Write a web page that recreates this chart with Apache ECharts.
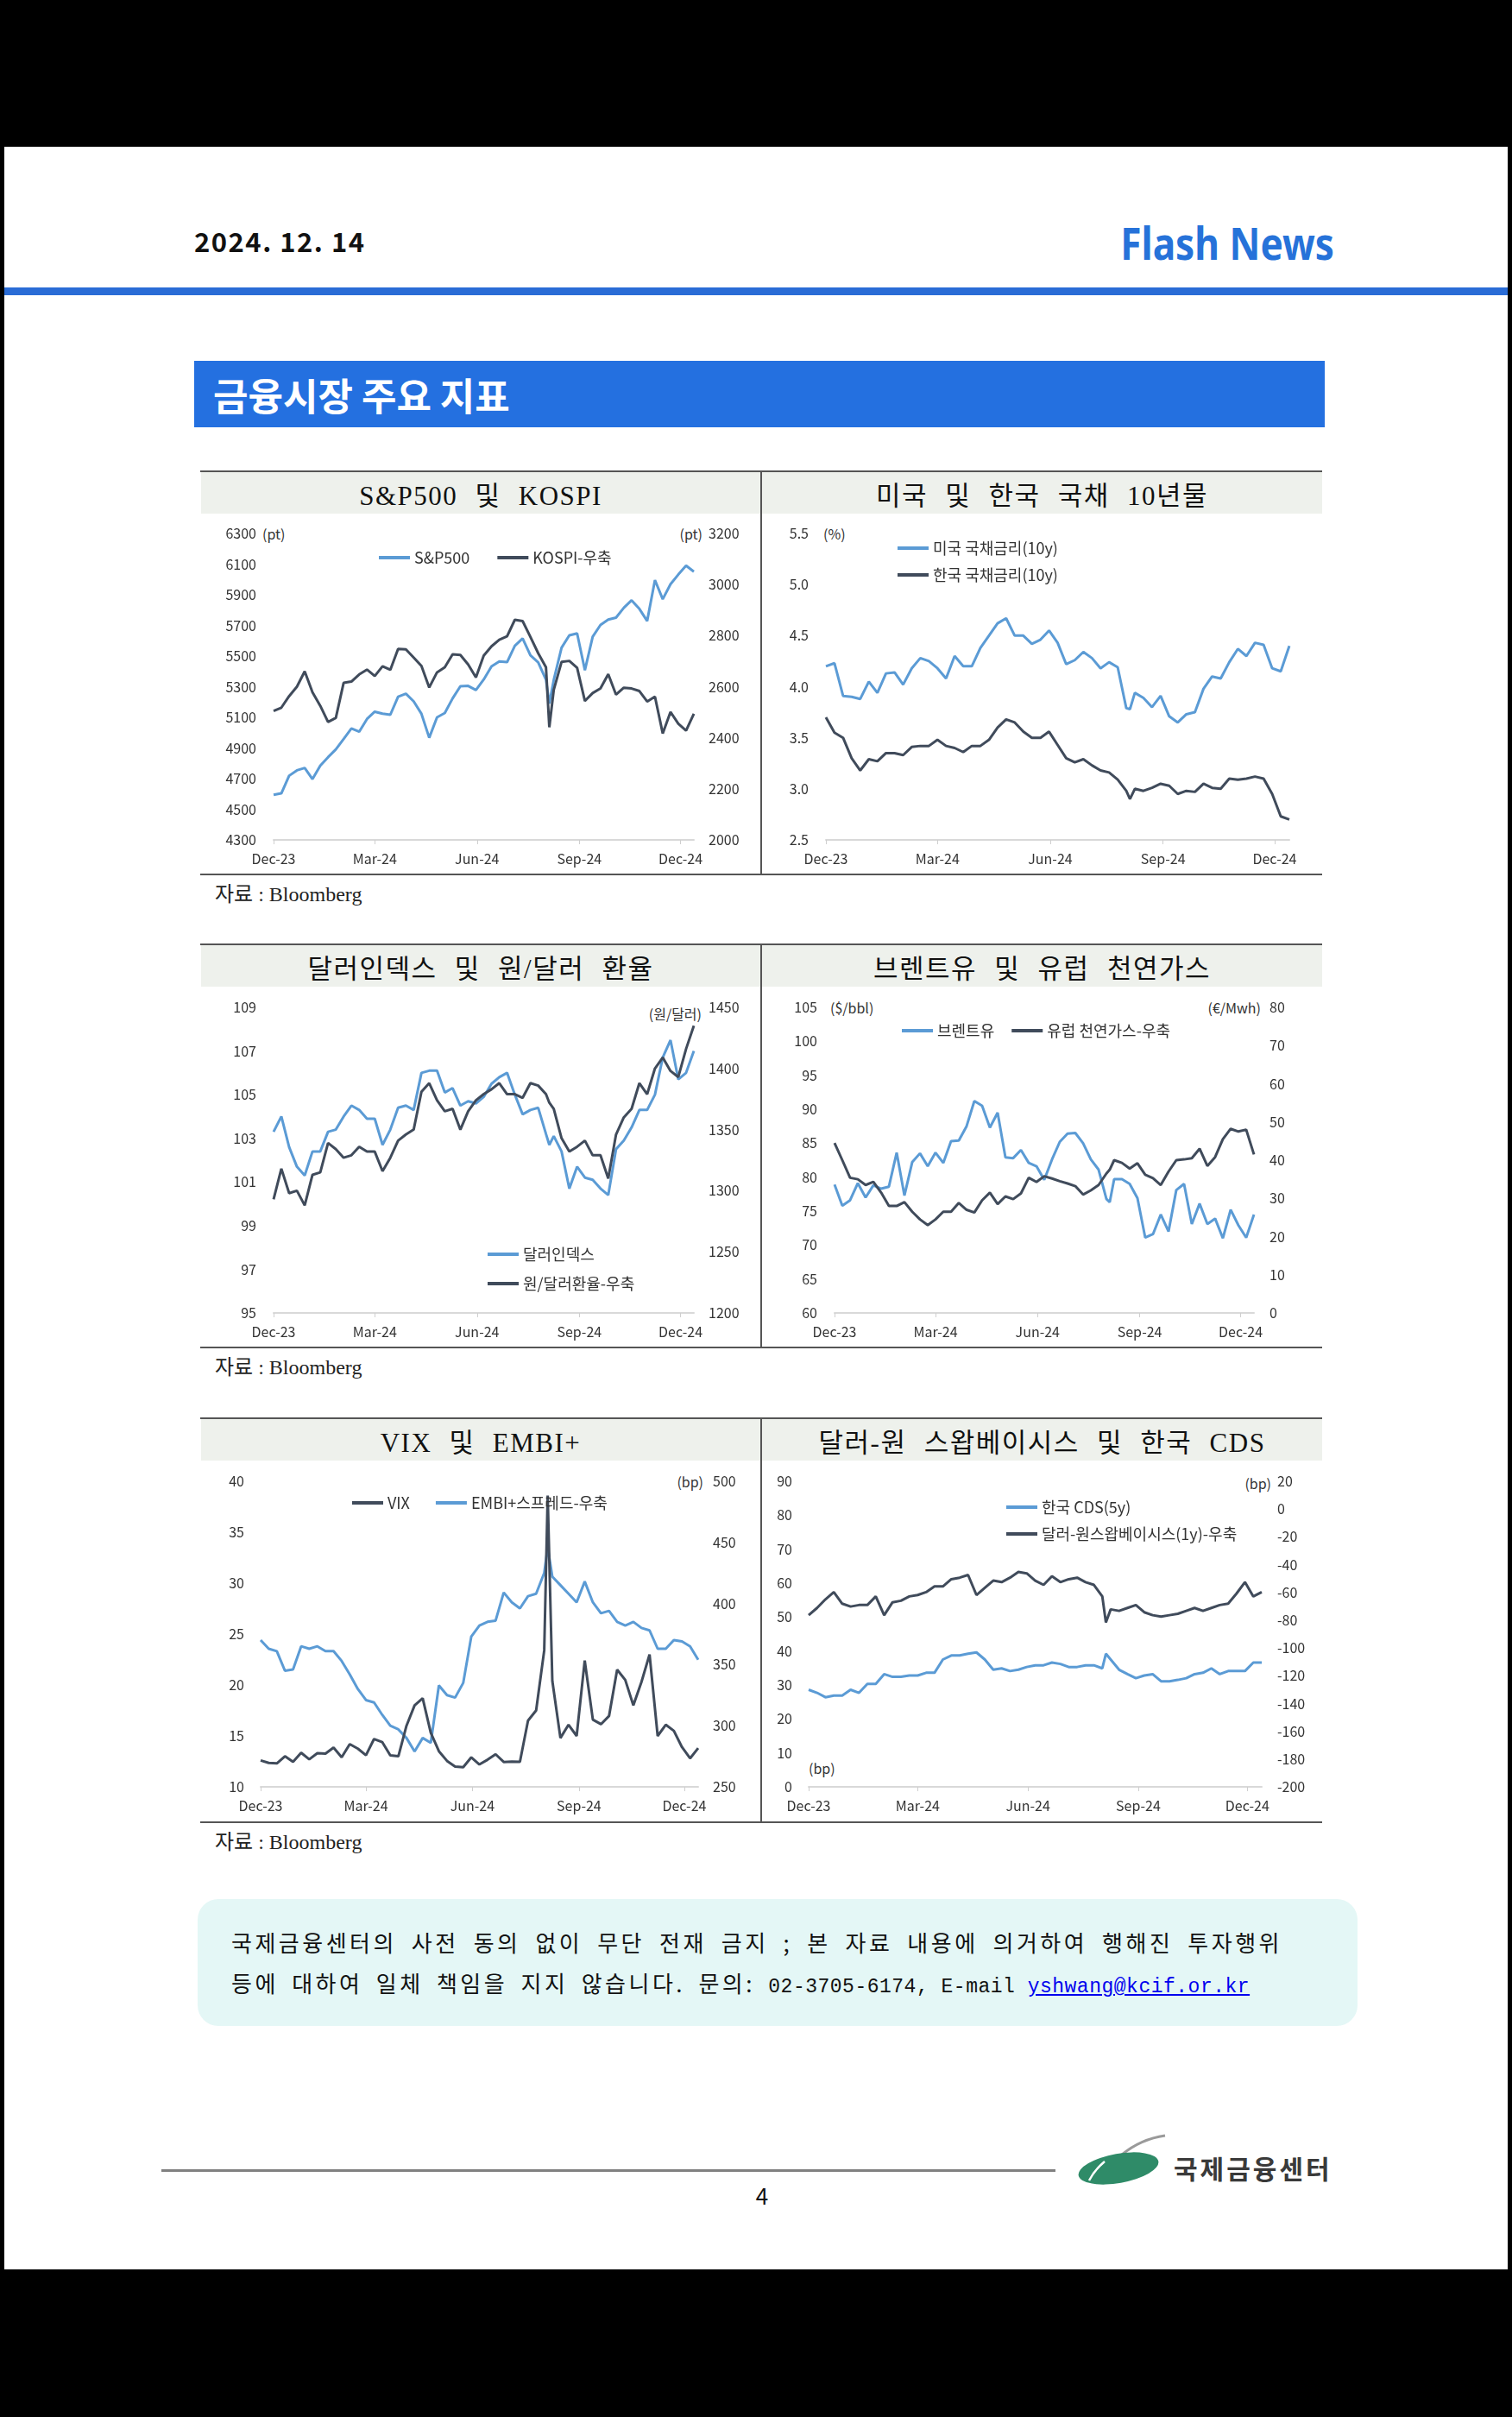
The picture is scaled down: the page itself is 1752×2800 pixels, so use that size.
<!DOCTYPE html>
<html><head><meta charset="utf-8">
<script src="https://cdn.jsdelivr.net/npm/echarts@6/dist/echarts.min.js"></script>
<style>
html,body{margin:0;padding:0;}
body{width:1752px;height:2800px;position:relative;background:#fff;overflow:hidden;font-family:"Noto Sans CJK KR","Noto Sans",sans-serif;}
.abs{position:absolute;}
.unit{position:absolute;font-size:16px;line-height:20px;color:#333;white-space:nowrap;}
.ptitle{position:absolute;display:flex;align-items:center;justify-content:center;font-family:"Liberation Serif","Noto Sans CJK KR",serif;font-size:31px;letter-spacing:1.5px;word-spacing:11px;color:#111;background:#EEF1EC;white-space:nowrap;}
.src{position:absolute;left:249px;font-family:"Liberation Serif","Noto Sans CJK KR",serif;font-size:24px;line-height:28px;color:#222;}
</style></head><body>
<div class="abs" style="left:0;top:0;width:1752px;height:170px;background:#000"></div>
<div class="abs" style="left:0;top:2629px;width:1752px;height:171px;background:#000"></div>
<div class="abs" style="left:0;top:170px;width:5px;height:2459px;background:#000"></div>
<div class="abs" style="left:1747px;top:170px;width:5px;height:2459px;background:#000"></div>

<div class="abs" style="left:225px;top:263px;font-size:31px;line-height:31px;font-weight:700;letter-spacing:1.5px;color:#111">2024. 12. 14</div>
<div class="abs" style="left:1546px;top:255px;font-family:'Noto Sans',sans-serif;font-size:52px;line-height:52px;font-weight:700;color:#2672D9;white-space:nowrap;transform:translateX(-100%) scaleX(0.85);transform-origin:right center">Flash News</div>
<div class="abs" style="left:5px;top:333px;width:1742px;height:9px;background:#2A6CD6"></div>
<div class="abs" style="left:225px;top:418px;width:1310px;height:77px;background:#2470E0;display:flex;align-items:center;">
  <span style="margin-left:22px;color:#fff;font-size:44px;font-weight:700;line-height:46px">금융시장 주요 지표</span>
</div>

<div id="frame"></div>

<div class="abs" style="left:229px;top:2200px;width:1344px;height:147px;border-radius:24px;background:#E4F7F6"></div>
<div class="abs" style="left:268px;top:2233px;width:1218px;font-size:26px;line-height:34px;letter-spacing:3.5px;color:#111;text-align:justify;text-align-last:justify;white-space:nowrap">국제금융센터의 사전 동의 없이 무단 전재 금지 ; 본 자료 내용에 의거하여 행해진 투자행위</div>
<div class="abs" style="left:268px;top:2280px;font-size:26px;line-height:34px;letter-spacing:3.5px;word-spacing:6px;color:#111;white-space:nowrap">등에 대하여 일체 책임을 지지 않습니다. 문의: <span style="font-family:'Liberation Mono',monospace;font-size:23px;letter-spacing:0.5px;word-spacing:0">02-3705-6174, E-mail <span style="color:#0000EE;text-decoration:underline">yshwang@kcif.or.kr</span></span></div>

<div class="abs" style="left:187px;top:2513px;width:1036px;height:3px;background:#808080"></div>
<div class="abs" style="left:870px;top:2528px;width:26px;text-align:center;font-size:26px;line-height:30px;color:#111">4</div>
<svg class="abs" style="left:1240px;top:2470px" width="115" height="65" viewBox="0 0 115 65">
  <path d="M 60 26 Q 82 8 110 4" stroke="#9a9a9a" stroke-width="3" fill="none"/>
  <ellipse cx="56" cy="42" rx="47" ry="17" fill="#2F8B68" transform="rotate(-10 56 42)"/>
  <path d="M 22 56 Q 28 44 40 34" stroke="#ffffff" stroke-width="2.5" fill="none"/>
</svg>
<div class="abs" style="left:1360px;top:2494px;font-size:30px;line-height:34px;font-weight:700;letter-spacing:3px;color:#3a3a3a">국제금융센터</div>

<script>
// ---------- data (weekly observations, day offset from 2023-12-01) ----------
const days = [0,7,14,21,28,35,42,49,56,63,70,77,84,91,98,105,112,119,126,133,140,147,154,161,168,175,182,189,196,203,210,217,224,231,238,245,248,252,259,266,273,280,287,294,301,308,315,322,329,336,343,350,357,364,371,378];
const tickDays = [0, 91, 183, 275, 366];
const tickLabels = ['Dec-23','Mar-24','Jun-24','Sep-24','Dec-24'];

const sp500 = [4594,4604,4719,4754,4770,4697,4784,4840,4891,4959,5027,5006,5089,5137,5124,5117,5234,5254,5204,5123,4967,5100,5128,5223,5303,5305,5278,5347,5432,5465,5460,5567,5615,5505,5459,5346,5190,5344,5554,5635,5648,5408,5626,5703,5738,5751,5815,5864,5808,5729,5996,5871,5969,6032,6090,6051];
const kospi = [2505,2518,2563,2600,2660,2578,2525,2462,2478,2615,2620,2648,2667,2642,2680,2666,2748,2746,2714,2681,2597,2656,2676,2727,2724,2687,2636,2722,2758,2784,2797,2862,2857,2795,2731,2676,2441,2588,2697,2701,2674,2544,2575,2593,2649,2569,2596,2593,2583,2542,2561,2417,2501,2455,2428,2494];

const us10y = [4.20,4.23,3.91,3.90,3.88,4.05,3.94,4.13,4.14,4.02,4.18,4.28,4.25,4.18,4.08,4.30,4.20,4.20,4.38,4.50,4.62,4.67,4.50,4.50,4.42,4.46,4.55,4.43,4.22,4.26,4.34,4.28,4.18,4.24,4.19,3.79,3.78,3.94,3.89,3.80,3.91,3.71,3.65,3.73,3.75,3.98,4.10,4.08,4.24,4.37,4.30,4.43,4.41,4.18,4.15,4.40];
const kr10y = [3.70,3.55,3.50,3.30,3.18,3.29,3.27,3.35,3.35,3.33,3.41,3.42,3.42,3.48,3.42,3.40,3.36,3.42,3.42,3.48,3.60,3.68,3.65,3.56,3.50,3.50,3.56,3.43,3.30,3.26,3.29,3.23,3.18,3.16,3.09,2.98,2.90,3.00,2.98,3.01,3.05,3.03,2.95,2.98,2.97,3.05,3.01,3.00,3.10,3.09,3.10,3.12,3.10,2.95,2.73,2.70];

const dxy = [103.3,104.0,102.6,101.7,101.3,102.4,102.4,103.3,103.4,104.0,104.5,104.3,103.9,103.9,102.7,103.4,104.4,104.5,104.3,106.0,106.1,106.1,105.1,105.3,104.5,104.7,104.6,104.9,105.5,105.8,106.0,105.0,104.1,104.3,104.4,103.2,102.7,103.1,102.4,100.7,101.7,101.2,101.1,100.7,100.4,102.5,102.9,103.5,104.3,104.3,105.0,106.7,107.5,105.7,106.0,107.0];
const usdkrw = [1293,1318,1298,1300,1288,1313,1315,1339,1334,1327,1329,1336,1332,1332,1316,1327,1341,1346,1350,1381,1388,1374,1365,1367,1350,1365,1374,1379,1383,1388,1379,1379,1376,1388,1386,1379,1372,1367,1343,1332,1336,1341,1329,1329,1310,1346,1360,1367,1388,1379,1400,1409,1398,1393,1416,1435];

const brent = [78.9,75.8,76.6,79.1,77.0,78.8,78.3,78.6,83.6,77.3,82.2,83.5,81.6,83.6,82.1,85.3,85.4,87.5,91.2,90.5,87.3,89.5,82.9,82.8,84.0,82.1,81.6,79.6,82.6,85.2,86.4,86.5,85.0,82.6,81.1,76.8,76.3,79.7,79.7,79.0,76.9,71.1,71.6,74.5,72.0,78.1,79.0,73.1,76.1,73.1,73.9,71.0,75.2,72.9,71.1,74.5];
const euGas = [44.5,40.0,35.4,35.0,33.5,34.3,31.5,28.0,28.0,29.0,26.5,24.5,23.0,24.5,26.5,26.5,28.8,27.0,26.3,29.5,31.5,28.5,30.5,29.8,31.3,35.4,34.3,35.8,35.2,34.5,33.9,33.2,31.0,32.1,33.5,36.5,37.5,40.0,39.3,37.8,39.2,36.2,35.3,33.5,37.0,40.0,40.2,40.5,43.0,38.5,40.8,45.5,48.2,47.5,48.0,41.5];

const vix = [12.6,12.35,12.3,13.0,12.45,13.35,12.7,13.3,13.26,13.85,12.9,14.2,13.75,13.1,14.7,14.4,13.1,13.0,16.0,18.0,18.7,15.3,13.5,12.55,12.0,11.93,12.9,12.2,12.66,13.2,12.44,12.48,12.46,16.5,17.5,23.4,38.6,20.4,14.8,16.1,15.0,22.4,16.6,16.15,16.96,21.5,20.5,18.0,20.3,23.0,15.0,16.1,15.5,13.9,12.8,13.8];
const embi = [370,363,361,345,346,365,363,365,361,361,353,342,330,321,319,309,300,297,290,279,290,286,333,325,323,335,373,382,385,386,409,401,396,406,408,425,446,422,415,408,401,418,401,392,394,385,382,385,380,378,363,363,370,369,365,354];

const krCds = [28.6,27.7,26.4,26.9,26.9,28.6,27.7,30.3,30.3,33.2,32.4,32.4,32.8,32.8,33.6,33.6,37.5,38.7,38.7,39.2,39.6,37.5,34.5,34.9,34.1,34.5,35.3,35.8,35.8,36.6,36.2,35.3,35.3,35.8,35.8,34.9,39.2,37.5,34.5,33.2,32.0,32.8,33.2,31.1,31.1,31.5,32.0,33.2,33.6,34.9,33.2,34.1,34.1,34.1,36.6,36.6];
const swapBasis = [-76.4,-71.2,-65.0,-59.8,-68.1,-70.2,-69.1,-69.1,-62.9,-76.4,-67.1,-66.0,-62.9,-61.9,-59.8,-55.7,-55.7,-50.5,-49.4,-47.4,-61.9,-56.7,-51.5,-52.6,-49.4,-45.3,-46.3,-51.5,-54.6,-48.4,-52.6,-50.5,-49.4,-52.6,-54.6,-62.9,-81.6,-72.2,-73.3,-71.2,-69.1,-74.3,-76.4,-77.4,-76.4,-75.4,-73.3,-71.2,-73.3,-71.2,-69.1,-68.1,-60.8,-52.6,-62.9,-59.8];

const panelTitles = ['S&P500 및 KOSPI','미국 및 한국 국채 10년물','달러인덱스 및 원/달러 환율','브렌트유 및 유럽 천연가스','VIX 및 EMBI+','달러-원 스왑베이시스 및 한국 CDS'];
const sourceText = '자료 : Bloomberg';

// ---------- frame ----------
const FONT = '"Noto Sans CJK KR","Noto Sans",sans-serif';
const C_LIGHT = '#5B9BD5', C_DARK = '#404B5B';
const rows = [{T:545,B:1013,src:1036},{T:1093,B:1561,src:1584},{T:1642,B:2111,src:2134}];
const frame = document.getElementById('frame');
function addDiv(style, html){const d=document.createElement('div');d.className='abs';d.style.cssText=style;if(html!==undefined)d.innerHTML=html;frame.appendChild(d);return d;}
rows.forEach((r,ri)=>{
  const t1=document.createElement('div');t1.className='ptitle';
  t1.style.cssText=`left:233px;top:${r.T+2}px;width:648px;height:48px;`;t1.textContent=panelTitles[ri*2];frame.appendChild(t1);
  const t2=document.createElement('div');t2.className='ptitle';
  t2.style.cssText=`left:883px;top:${r.T+2}px;width:649px;height:48px;`;t2.textContent=panelTitles[ri*2+1];frame.appendChild(t2);
  addDiv(`left:232px;top:${r.T}px;width:1300px;height:2px;background:#555`);
  addDiv(`left:232px;top:${r.B-1}px;width:1300px;height:2px;background:#555`);
  addDiv(`left:881px;top:${r.T}px;width:2px;height:${r.B-r.T+1}px;background:#555`);
  const s=document.createElement('div');s.className='src';s.style.top=(r.src-14)+'px';s.textContent=sourceText;frame.appendChild(s);
});
function unit(text,x,cy,alignRight){const d=document.createElement('div');d.className='unit';d.textContent=text;d.style.left=x+'px';d.style.top=(cy-10)+'px';if(alignRight)d.style.transform='translateX(-100%)';frame.appendChild(d);}
unit('(pt)',304,618);unit('(pt)',814,618,true);
unit('(%)',954,618);
unit('(원/달러)',813,1174,true);
unit('($/bbl)',962,1167);unit('(€/Mwh)',1461,1167,true);
unit('(bp)',815,1716,true);
unit('(bp)',1473,1718,true);unit('(bp)',937,2048);

// ---------- charts ----------
function xAxisCfg(){return {type:'value',min:0,max:378,
  axisLine:{show:true,onZero:false,lineStyle:{color:'#d9d9d9',width:2}},
  axisTick:{show:true,customValues:tickDays,length:5,lineStyle:{color:'#cfcfcf',width:1}},
  axisLabel:{customValues:tickDays,formatter:v=>{const i=tickDays.indexOf(v);return i>=0?tickLabels[i]:'';},margin:14,fontSize:16,color:'#333',fontFamily:FONT},
  splitLine:{show:false}};}
function yAxisCfg(min,max,interval,pos,margin,fmt){return {type:'value',position:pos,min,max,interval,
  axisLine:{show:false},axisTick:{show:false},splitLine:{show:false},
  axisLabel:{margin,fontSize:16,color:'#333',fontFamily:FONT,formatter:fmt||(v=>String(v))}};}
function ser(name,vals,color,yi,z){return {name,type:'line',yAxisIndex:yi,z:z||2,data:days.map((d,i)=>[d,vals[i]]),
  showSymbol:false,symbol:'none',lineStyle:{width:3,color},itemStyle:{color},emphasis:{disabled:true}};}
function legendCfg(left,top,orient,itemGap,names){return {left,top,orient,itemGap,icon:'rect',itemWidth:36,itemHeight:4,selectedMode:false,
  textStyle:{fontSize:18,color:'#333',fontFamily:FONT},data:names};}
function makeChart(box,opt){
  const el=document.createElement('div');el.className='abs';
  el.style.cssText=`left:${box[0]}px;top:${box[1]}px;width:${box[2]}px;height:${box[3]}px;`;
  frame.appendChild(el);
  const c=echarts.init(el,null,{renderer:'canvas'});
  opt.animation=false;opt.xAxis=xAxisCfg();
  c.setOption(opt);
}
// 1 S&P500 & KOSPI
makeChart([232,596,650,416],{
  grid:{left:85,right:78,top:22,bottom:39},
  legend:legendCfg(202,36,'horizontal',32,['S&P500','KOSPI-우축']),
  yAxis:[yAxisCfg(4300,6300,200,'left',20),yAxisCfg(2000,3200,200,'right',17)],
  series:[ser('S&P500',sp500,C_LIGHT,0,2),ser('KOSPI-우축',kospi,C_DARK,1,3)]
});
// 2 US & KR 10y
makeChart([882,596,650,416],{
  grid:{left:75,right:38,top:22,bottom:39},
  legend:legendCfg(153,25,'vertical',13,['미국 국채금리(10y)','한국 국채금리(10y)']),
  yAxis:[yAxisCfg(2.5,5.5,0.5,'left',20,v=>v.toFixed(1))],
  series:[ser('미국 국채금리(10y)',us10y,C_LIGHT,0,2),ser('한국 국채금리(10y)',kr10y,C_DARK,0,3)]
});
// 3 DXY & USDKRW
makeChart([232,1144,650,416],{
  grid:{left:85,right:78,top:23,bottom:39},
  legend:legendCfg(328,295,'vertical',16,['달러인덱스','원/달러환율-우축']),
  yAxis:[yAxisCfg(95,109,2,'left',20),yAxisCfg(1200,1450,50,'right',17)],
  series:[ser('달러인덱스',dxy,C_LIGHT,0,2),ser('원/달러환율-우축',usdkrw,C_DARK,1,3)]
});
// 4 Brent & EU gas
makeChart([882,1144,650,416],{
  grid:{left:85,right:79,top:23,bottom:39},
  legend:legendCfg(158,36,'horizontal',20,['브렌트유','유럽 천연가스-우축']),
  yAxis:[yAxisCfg(60,105,5,'left',20),yAxisCfg(0,80,10,'right',18)],
  series:[ser('브렌트유',brent,C_LIGHT,0,2),ser('유럽 천연가스-우축',euGas,C_DARK,1,3)]
});
// 5 VIX & EMBI+
makeChart([232,1693,650,417],{
  grid:{left:70,right:73,top:23,bottom:40},
  legend:legendCfg(171,34,'horizontal',30,['VIX','EMBI+스프레드-우축']),
  yAxis:[yAxisCfg(10,40,5,'left',19),yAxisCfg(250,500,50,'right',17)],
  series:[ser('EMBI+스프레드-우축',embi,C_LIGHT,1,2),ser('VIX',vix,C_DARK,0,3)]
});
// 6 Korea CDS & swap basis
makeChart([882,1693,650,417],{
  grid:{left:55,right:70,top:23,bottom:40},
  legend:legendCfg(279,39,'vertical',13,['한국 CDS(5y)','달러-원스왑베이시스(1y)-우축']),
  yAxis:[yAxisCfg(0,90,10,'left',19),yAxisCfg(-200,20,20,'right',18)],
  series:[ser('한국 CDS(5y)',krCds,C_LIGHT,0,2),ser('달러-원스왑베이시스(1y)-우축',swapBasis,C_DARK,1,3)]
});
</script>
</body></html>
